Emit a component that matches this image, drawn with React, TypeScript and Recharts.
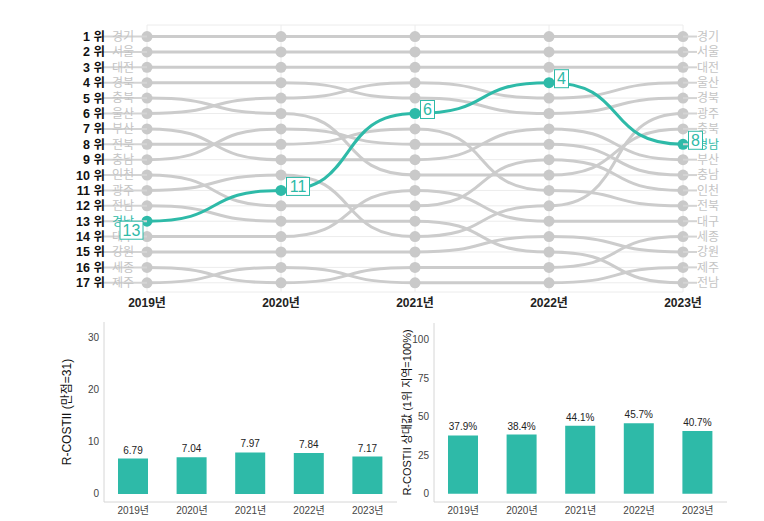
import React from 'react';
import { LineChart, Line, XAxis, YAxis, CartesianGrid, LabelList, BarChart, Bar } from 'recharts';

const years = ['2019년', '2020년', '2021년', '2022년', '2023년'];
const regions = ['경기', '서울', '대전', '경북', '충북', '울산', '부산', '전북', '충남', '인천', '광주', '전남', '경남', '대구', '강원', '세종', '제주'];

// rank of each region (same order as regions) per year
const rank2019 = [1, 2, 3, 4, 5, 6, 7, 8, 9, 10, 11, 12, 13, 14, 15, 16, 17];
const rank2020 = [1, 2, 3, 4, 6, 5, 9, 8, 7, 12, 10, 13, 11, 14, 15, 17, 16];
const rank2021 = [1, 2, 3, 5, 10, 4, 9, 7, 8, 12, 14, 13, 6, 11, 15, 16, 17];
const rank2022 = [1, 2, 3, 6, 10, 5, 7, 11, 8, 9, 12, 15, 4, 13, 14, 16, 17];
const rank2023 = [1, 2, 3, 5, 7, 4, 9, 12, 10, 11, 6, 17, 8, 13, 15, 14, 16];
const rankTicks = [1, 2, 3, 4, 5, 6, 7, 8, 9, 10, 11, 12, 13, 14, 15, 16, 17];

const scoreValues = [6.79, 7.04, 7.97, 7.84, 7.17];
const relativeValues = [37.9, 38.4, 44.1, 45.7, 40.7];

const focus = '경남';
const teal = '#2ebaa8';
const grey = '#cccccc';

const rankTable = [rank2019, rank2020, rank2021, rank2022, rank2023];
const bumpData = years.map((year, i) => {
  const row: Record<string, any> = { year };
  regions.forEach((r, j) => { row[r] = rankTable[i][j]; });
  return row;
});
const scoreData = years.map((year, i) => ({ year, value: scoreValues[i] }));
const relativeData = years.map((year, i) => ({ year, value: relativeValues[i] }));

// bump curve: flat at each point, s-shaped between points
const bumpCurve: any = (context: any) => {
  let x0 = 0, y0 = 0, pt = 0;
  return {
    areaStart() {},
    areaEnd() {},
    lineStart() { pt = 0; },
    lineEnd() {},
    point(x: number, y: number) {
      x = +x; y = +y;
      if (pt === 0) {
        pt = 1;
        context.moveTo(x, y);
      } else {
        const k = 0.6;
        const dx = x - x0;
        context.bezierCurveTo(x0 + dx * k, y0, x - dx * k, y, x, y);
      }
      x0 = x; y0 = y;
    },
  };
};

const LeftTick = (props: any) => {
  const { x, y, payload } = props;
  const name = regions[rank2019.indexOf(payload.value)];
  return (
    <g>
      <line x1={x - 45} x2={x} y1={y} y2={y} stroke="#d4d4d4" strokeWidth={2} />
      <text x={x - 42} y={y} dy="0.36em" textAnchor="end" fontSize={12.5} fontWeight={700} fill="#111">
        {payload.value} 위
      </text>
      <text x={x - 35} y={y} dy="0.36em" fontSize={12} fill={name === focus ? teal : '#c4c4c4'}>
        {name}
      </text>
    </g>
  );
};

const RightTick = (props: any) => {
  const { x, y, payload } = props;
  const name = regions[rank2023.indexOf(payload.value)];
  return (
    <g>
      <line x1={x} x2={x + 14} y1={y} y2={y} stroke="#d4d4d4" strokeWidth={2} />
      <text x={x + 14} y={y} dy="0.36em" fontSize={12} fill={name === focus ? teal : '#c4c4c4'}>
        {name}
      </text>
    </g>
  );
};

const renderRankLabel = (props: any) => {
  const x = props.x ?? props.viewBox?.x;
  const y = props.y ?? props.viewBox?.y;
  const { value, index } = props;
  const w = String(value).length * 9 + 5;
  const h = 18;
  const bx = index === 0 ? x - w - 4 : x + 5.5;
  const by = index === 0 ? y : y - 13;
  return (
    <g>
      <rect x={bx} y={by} width={w} height={h} fill="#fff" stroke={teal} strokeWidth={1} />
      <text x={bx + w / 2} y={by + h / 2} dy="0.36em" textAnchor="middle" fontSize={16} fill={teal}>
        {value}
      </text>
    </g>
  );
};

const barTick = { fontSize: 10, fill: '#444' };

export default function App() {
  const others = regions.filter(r => r !== focus);
  return (
    <div style={{ position: 'relative', width: 764, height: 521, fontFamily: "'Liberation Sans', 'Noto Sans CJK KR', sans-serif" }}>
      <style>{'body{margin:0}'}</style>

      <div style={{ position: 'absolute', left: 0, top: 0 }}>
        <LineChart width={764} height={320} data={bumpData} margin={{ top: 25, right: 21, bottom: 0, left: 37 }}>
          <CartesianGrid stroke="#ececec" strokeWidth={1} />
          <XAxis
            dataKey="year"
            height={28}
            axisLine={false}
            tickLine={false}
            tickSize={0}
            tickMargin={6}
            interval={0}
            tick={{ fontSize: 12, fontWeight: 700, fill: '#222' }}
          />
          <YAxis
            type="number"
            domain={[0.25, 17.6]}
            reversed
            ticks={rankTicks}
            interval={0}
            width={110}
            axisLine={false}
            tickLine={false}
            tickSize={0}
            tickMargin={0}
            tick={<LeftTick />}
          />
          <YAxis
            yAxisId="r"
            orientation="right"
            type="number"
            domain={[0.25, 17.6]}
            reversed
            ticks={rankTicks}
            interval={0}
            width={60}
            axisLine={false}
            tickLine={false}
            tickSize={0}
            tickMargin={0}
            tick={<RightTick />}
          />
          {others.map((r, i) => (
            <Line
              key={r}
              yAxisId={i === 0 ? 'r' : 0}
              type={bumpCurve}
              dataKey={r}
              stroke={grey}
              strokeWidth={3}
              dot={{ r: 5.5, fill: '#c9c9c9', stroke: 'none' }}
              activeDot={false}
              isAnimationActive={false}
            />
          ))}
          <Line
            type={bumpCurve}
            dataKey={focus}
            stroke={teal}
            strokeWidth={3}
            dot={{ r: 5.5, fill: teal, stroke: 'none' }}
            activeDot={false}
            isAnimationActive={false}
          >
            <LabelList dataKey={focus} content={renderRankLabel} />
          </Line>
        </LineChart>
      </div>

      <div style={{ position: 'absolute', left: 0, top: 310 }}>
        <BarChart width={400} height={211} data={scoreData} margin={{ top: 12, right: 3, bottom: 0, left: 60 }} barSize={30}>
          <XAxis dataKey="year" height={19} tickLine={false} tickSize={3} interval={0} axisLine={{ stroke: '#d6d6d6' }} tick={barTick} />
          <YAxis
            domain={[-1.55, 33]}
            ticks={[0, 10, 20, 30]}
            width={44}
            axisLine={{ stroke: '#d6d6d6' }}
            tickLine={false}
            tickSize={3}
            tickMargin={2}
            tick={barTick}
            label={{ value: 'R-COSTII (만점=31)', angle: -90, position: 'center', dx: -15, style: { fontSize: 12, fill: '#111' } }}
          />
          <Bar dataKey="value" fill={teal} isAnimationActive={false}>
            <LabelList dataKey="value" position="top" offset={5} style={{ fontSize: 10, fill: '#222' }} />
          </Bar>
        </BarChart>
      </div>

      <div style={{ position: 'absolute', left: 380, top: 310 }}>
        <BarChart width={384} height={211} data={relativeData} margin={{ top: 13, right: 37, bottom: 0, left: 10 }} barSize={30}>
          <XAxis dataKey="year" height={19} tickLine={false} tickSize={3} interval={0} axisLine={{ stroke: '#d6d6d6' }} tick={barTick} />
          <YAxis
            domain={[-5.3, 110.8]}
            ticks={[0, 25, 50, 75, 100]}
            width={44}
            axisLine={{ stroke: '#d6d6d6' }}
            tickLine={false}
            tickSize={3}
            tickMargin={2}
            tick={barTick}
            label={{ value: 'R-COSTII 상대값 (1위 지역=100%)', angle: -90, position: 'center', dx: -5, style: { fontSize: 11, fill: '#111' } }}
          />
          <Bar dataKey="value" fill={teal} isAnimationActive={false}>
            <LabelList dataKey="value" position="top" offset={5} formatter={(v: any) => `${v}%`} style={{ fontSize: 10, fill: '#222' }} />
          </Bar>
        </BarChart>
      </div>
    </div>
  );
}
